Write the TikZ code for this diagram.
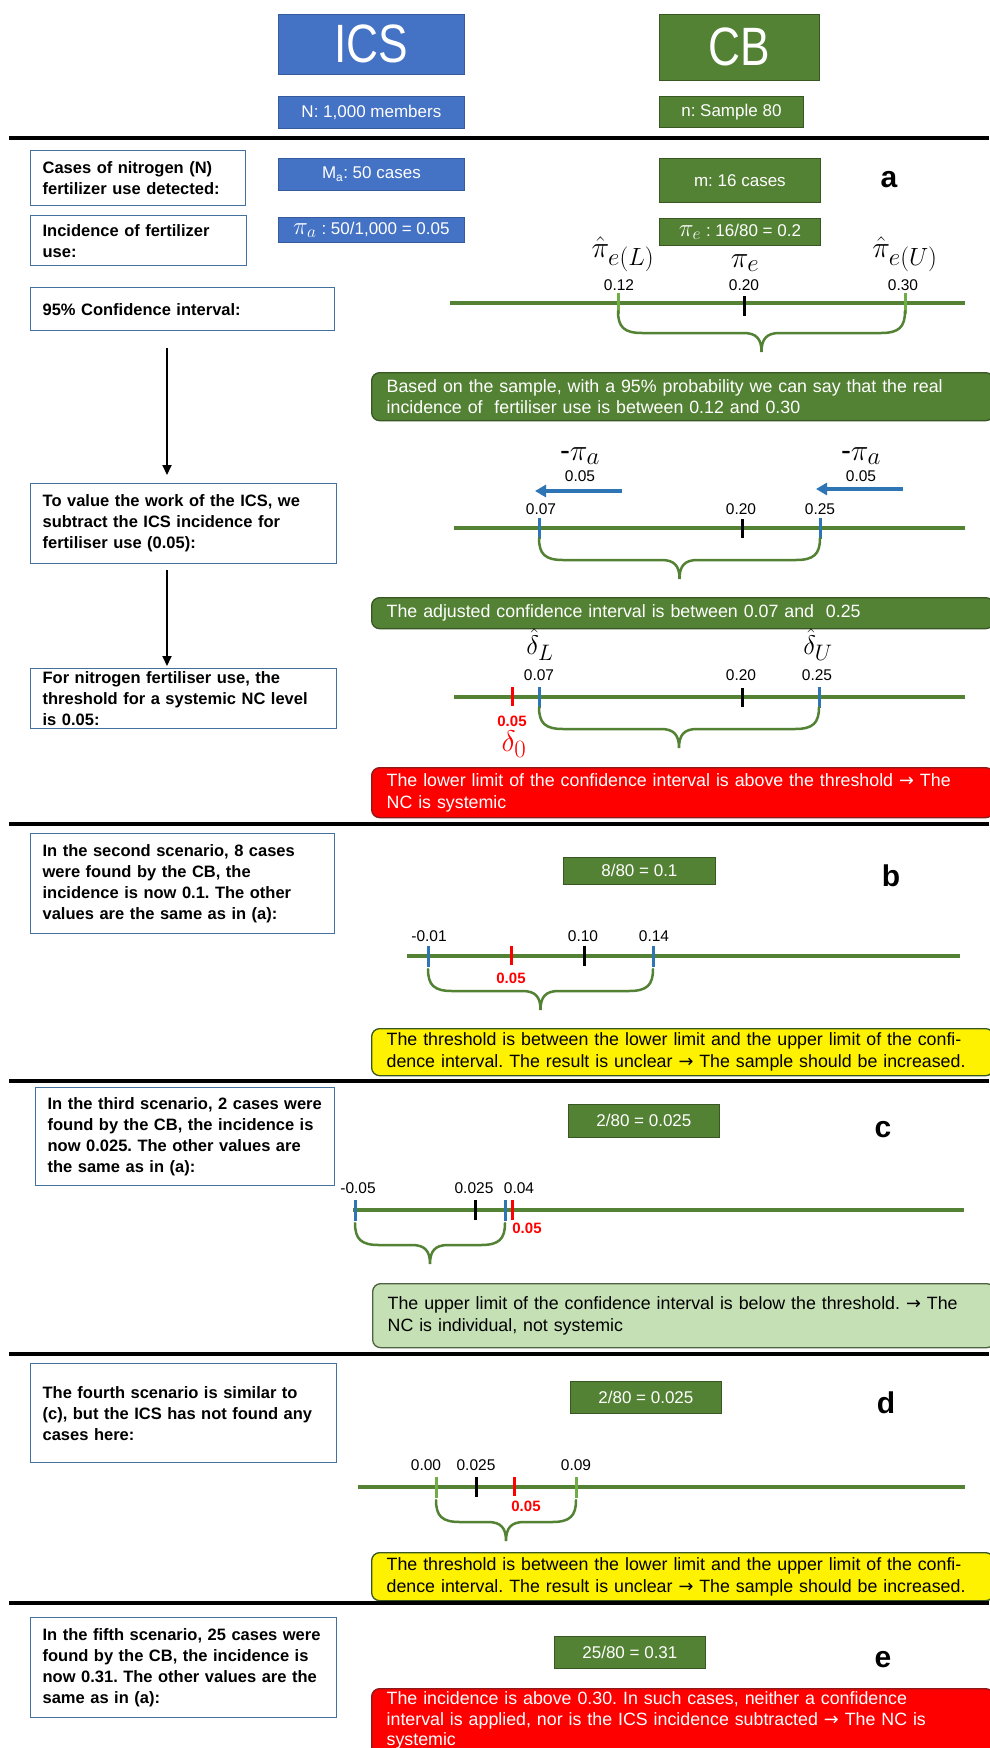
\documentclass[tikz,border=0pt]{standalone}
\usepackage{graphicx}
\usepackage{fontspec}
\setmainfont{Liberation Sans}
\newfontfamily\narrowfont[FakeStretch=0.82]{Liberation Sans}
\newfontfamily\djv{DejaVu Sans}
\usetikzlibrary{arrows.meta}
\definecolor{icsblue}{HTML}{4472C4}
\definecolor{cbgreen}{HTML}{548235}
\definecolor{darkgreen}{HTML}{385723}
\definecolor{lightgreen}{HTML}{C5E0B4}
\definecolor{boxborder}{HTML}{41719C}
\definecolor{tickblue}{HTML}{2E75B6}
\definecolor{tickgreen}{HTML}{70AD47}
\definecolor{redborder}{HTML}{8B1A1A}
\newcommand{\rarr}{{\djv\char"2192}}
\newcommand{\boxmath}[1]{\scalebox{1.45}{$#1$}}
\newcommand{\lblmath}[1]{\scalebox{1.2}{#1}}
% curly brace below a number line: x1, x2, y
\newcommand{\curlyb}[3]{%
  \draw[bracestyle] (#1,#3) .. controls (#1,#3+16) and ({#1+6},#3+22) .. ({#1+24},#3+22)
    -- ({(#1+#2)/2-18},#3+22) .. controls ({(#1+#2)/2-5},#3+22) and ({(#1+#2)/2},#3+28) .. ({(#1+#2)/2},#3+41)
    .. controls ({(#1+#2)/2},#3+28) and ({(#1+#2)/2+5},#3+22) .. ({(#1+#2)/2+18},#3+22)
    -- ({#2-24},#3+22) .. controls ({#2-6},#3+22) and (#2,#3+16) .. (#2,#3);}
\frenchspacing
\tikzset{
  leftbox/.style={draw=boxborder, line width=1.3pt, fill=white, anchor=north west, align=left,
    inner xsep=12pt, inner ysep=0pt, font=\bfseries\fontsize{16.5}{21}\selectfont},
  smallbox/.style={anchor=north west, text=white, inner sep=0pt, line width=0.8pt,
    font=\fontsize{17}{20}\selectfont},
  bigbox/.style={anchor=north west, text=white, inner sep=0pt, line width=0.8pt,
    font=\narrowfont\fontsize{54}{54}\selectfont},
  infobox/.style={anchor=north west, rounded corners=8pt, align=left, inner xsep=15pt,
    inner ysep=3pt, text width=592pt, line width=1.3pt, font=\fontsize{17.8}{21.7}\selectfont},
  letterlbl/.style={font=\bfseries\fontsize{30}{30}\selectfont, inner sep=0pt},
  numline/.style={draw=cbgreen, line width=4pt},
  tickmk/.style={line width=3pt},
  num/.style={font=\fontsize{15.5}{16}\selectfont, inner sep=0pt},
  mathlbl/.style={font=\fontsize{24.88}{27}\selectfont, inner sep=0pt},
  redlbl/.style={font=\bfseries\fontsize{15}{16}\selectfont, text=red, inner sep=0pt},
  bracestyle/.style={draw=cbgreen, line width=2.5pt, line cap=round},
  rulestyle/.style={line width=3.5pt, draw=black},
  downarrow/.style={line width=2pt, -{Triangle[length=10pt,width=9pt]}},
  bluearrow/.style={draw=tickblue, line width=3.5pt, -{Triangle[length=11pt,width=12pt]}},
}
\begin{document}
\begin{tikzpicture}[x=1pt,y=-1pt]
\useasboundingbox (0,0) rectangle (989,1748);
\fill[white] (0,0) rectangle (989,1748);

% ---------- header ----------
\node[bigbox, fill=icsblue, draw=icsblue!80!black, minimum width=186pt, minimum height=60pt] (ics) at (278,14) {ICS};
\node[bigbox, fill=cbgreen, draw=darkgreen, minimum width=160pt, minimum height=66pt] (cb) at (659,14) {CB};
\node[smallbox, fill=icsblue, draw=icsblue!80!black, minimum width=186pt, minimum height=32pt] (Nbox) at (278,96) {N: 1,000 members};
\node[smallbox, fill=cbgreen, draw=darkgreen, minimum width=144pt, minimum height=31pt] (nbox) at (659,96) {n: Sample 80};
\draw[rulestyle] (9,138) -- (989,138);

% ---------- section a ----------
\node[leftbox, text width=191pt, minimum height=55pt] (cases) at (30,150) {Cases of nitrogen (N)\\fertilizer use detected:};
\node[smallbox, fill=icsblue, draw=icsblue!80!black, minimum width=186pt, minimum height=32pt] (Ma) at (278,158) {M\textsubscript{a}: 50 cases};
\node[smallbox, fill=cbgreen, draw=darkgreen, minimum width=161pt, minimum height=44pt] (mbox) at (659,158) {m: 16 cases};
\node[letterlbl] (la) at (889,180) {a};
\node[leftbox, text width=192pt, minimum height=50pt] (inc) at (30,215) {Incidence of fertilizer\\use:};
\node[smallbox, fill=icsblue, draw=icsblue!80!black, minimum width=186pt, minimum height=25pt] (pia) at (278,217) {\boxmath{\pi_a} : 50/1,000 = 0.05};
\node[smallbox, fill=cbgreen, draw=darkgreen, minimum width=161pt, minimum height=27pt] (pie) at (659,218) {\boxmath{\pi_e} : 16/80 = 0.2};
\node[leftbox, text width=280pt, minimum height=43pt] (ci) at (30,287) {95\% Confidence interval:};

% number line a1
\draw[numline] (450,303) -- (965,303);
\draw[tickmk, tickgreen] (618,293) -- (618,314);
\draw[tickmk, black] (744,296) -- (744,316);
\draw[tickmk, tickgreen] (905,293) -- (905,314);
\node[mathlbl, anchor=south] (piL) at (623,272) {\lblmath{$\hat{\pi}_{e(L)}$}};
\node[mathlbl, anchor=south] (piM) at (745,272) {\lblmath{$\pi_e$}};
\node[mathlbl, anchor=south] (piU) at (905,272) {\lblmath{$\hat{\pi}_{e(U)}$}};
\node[num] (n012) at (619,285) {0.12};
\node[num] (n020a) at (744,285) {0.20};
\node[num] (n030) at (903,285) {0.30};
\curlyb{618}{905}{311}

\node[infobox, fill=cbgreen, draw=darkgreen, text=white, minimum height=48pt] (based) at (371,372)
  {Based on the sample, with a 95\% probability we can say that the real\\incidence of~ fertiliser use is between 0.12 and 0.30};

% left column arrows and boxes
\coordinate (ax) at (167,0);
\node[leftbox, text width=282pt, minimum height=80pt] (val) at (30,483) {To value the work of the ICS, we\\subtract the ICS incidence for\\fertiliser use (0.05):};
\draw[downarrow, shorten <=17pt, shorten >=8pt] (ci.south -| ax) -- (val.north -| ax);

% number line a2
\node[mathlbl, anchor=south] (mpa1) at (580,465) {\lblmath{-$\pi_a$}};
\node[num] (n005a) at (580,476) {0.05};
\node[mathlbl, anchor=south] (mpa2) at (861,465) {\lblmath{-$\pi_a$}};
\node[num] (n005b) at (861,476) {0.05};
\coordinate (ba1s) at (622,491);
\coordinate (ba1e) at (535,491);
\coordinate (ba2s) at (903,489);
\coordinate (ba2e) at (816,489);
\draw[bluearrow] (ba1s) -- (ba1e);
\draw[bluearrow] (ba2s) -- (ba2e);
\draw[numline] (454,528) -- (965,528);
\draw[tickmk, tickblue] (539,518) -- (539,539);
\draw[tickmk, black] (742,519) -- (742,538);
\draw[tickmk, tickblue] (820,518) -- (820,539);
\node[num] (n007a) at (541,509) {0.07};
\node[num] (n020b) at (741,509) {0.20};
\node[num] (n025a) at (820,509) {0.25};
\curlyb{539}{820}{538}

\node[infobox, fill=cbgreen, draw=darkgreen, text=white, minimum height=31pt] (adj) at (371,597)
  {The adjusted confidence interval is between 0.07 and \ 0.25};

% number line a3
\node[leftbox, text width=282pt, minimum height=60pt] (thr) at (30,668) {For nitrogen fertiliser use, the\\threshold for a systemic NC level\\is 0.05:};
\draw[downarrow, shorten <=6pt, shorten >=2pt] (val.south -| ax) -- (thr.north -| ax);
\node[mathlbl, anchor=south] (dL) at (540,661) {\scalebox{1.08}{$\hat{\delta}_L$}};
\node[mathlbl, anchor=south] (dU) at (818,661) {\scalebox{1.08}{$\hat{\delta}_U$}};
\node[num] (n007b) at (539,675) {0.07};
\node[num] (n020c) at (741,675) {0.20};
\node[num] (n025b) at (817,675) {0.25};
\draw[numline] (454,697) -- (965,697);
\draw[tickmk, red] (512,687) -- (512,706);
\draw[tickmk, tickblue] (539,687) -- (539,708);
\draw[tickmk, black] (742,688) -- (742,707);
\draw[tickmk, tickblue] (819,687) -- (819,708);
\node[redlbl] (r005a) at (512,721) {0.05};
\node[mathlbl, text=red, anchor=north] (d0) at (514,731) {\lblmath{$\delta_0$}};
\curlyb{539}{819}{707}

\node[infobox, fill=red, draw=redborder, text=white, minimum height=50pt] (reda) at (371,767)
  {The lower limit of the confidence interval is above the threshold \rarr{} The\\NC is systemic};
\draw[rulestyle] (9,824) -- (989,824);

% ---------- section b ----------
\node[leftbox, text width=280pt, minimum height=100pt] (secb) at (30,833) {In the second scenario, 8 cases\\were found by the CB, the\\incidence is now 0.1. The other\\values are the same as in (a):};
\node[smallbox, fill=cbgreen, draw=darkgreen, minimum width=152pt, minimum height=27pt] (b880) at (563,857) {8/80 = 0.1};
\node[letterlbl] (lb) at (891,876) {b};
\draw[numline] (407,956) -- (960,956);
\draw[tickmk, tickblue] (428,946) -- (428,967);
\draw[tickmk, red] (511,946) -- (511,965);
\draw[tickmk, black] (584,946) -- (584,966);
\draw[tickmk, tickblue] (653,946) -- (653,967);
\node[num] (nm001) at (429,936) {-0.01};
\node[num] (n010) at (583,936) {0.10};
\node[num] (n014) at (654,936) {0.14};
\node[redlbl] (r005b) at (511,978) {0.05};
\curlyb{428}{653}{969}
\node[infobox, fill=yellow, draw=darkgreen, text=black, minimum height=47pt] (yelb) at (371,1028)
  {The threshold is between the lower limit and the upper limit of the confi-\\dence interval. The result is unclear \rarr{} The sample should be increased.};
\draw[rulestyle] (9,1081) -- (989,1081);

% ---------- section c ----------
\node[leftbox, text width=275pt, minimum height=98pt] (secc) at (35,1087) {In the third scenario, 2 cases were\\found by the CB, the incidence is\\now 0.025. The other values are\\the same as in (a):};
\node[smallbox, fill=cbgreen, draw=darkgreen, minimum width=151pt, minimum height=33pt] (c280) at (568,1104) {2/80 = 0.025};
\node[letterlbl] (lc) at (883,1130) {c};
\draw[numline] (353,1210) -- (964,1210);
\draw[tickmk, tickblue] (355,1200) -- (355,1221);
\draw[tickmk, black] (475,1200) -- (475,1220);
\draw[tickmk, tickblue] (505,1200) -- (505,1221);
\draw[tickmk, red] (512,1200) -- (512,1220);
\node[num] (nm005) at (358,1188) {-0.05};
\node[num] (n0025c) at (474,1188) {0.025};
\node[num] (n004) at (519,1188) {0.04};
\node[redlbl] (r005c) at (527,1228) {0.05};
\curlyb{355}{505}{1223}
\node[infobox, fill=lightgreen, draw=darkgreen!70!gray, text=black, minimum height=64pt] (lgc) at (372,1283)
  {The upper limit of the confidence interval is below the threshold. \rarr{} The\\NC is individual, not systemic};
\draw[rulestyle] (9,1354) -- (989,1354);

% ---------- section d ----------
\node[leftbox, text width=282pt, minimum height=99pt] (secd) at (30,1363) {The fourth scenario is similar to\\(c), but the ICS has not found any\\cases here:};
\node[smallbox, fill=cbgreen, draw=darkgreen, minimum width=151pt, minimum height=32pt] (d280) at (570,1381) {2/80 = 0.025};
\node[letterlbl] (ld) at (886,1403) {d};
\draw[numline] (358,1487) -- (965,1487);
\draw[tickmk, tickgreen] (436,1477) -- (436,1498);
\draw[tickmk, black] (476,1477) -- (476,1497);
\draw[tickmk, red] (514,1477) -- (514,1496);
\draw[tickmk, tickgreen] (576,1477) -- (576,1498);
\node[num] (n000) at (426,1465) {0.00};
\node[num] (n0025d) at (476,1465) {0.025};
\node[num] (n009) at (576,1465) {0.09};
\node[redlbl] (r005d) at (526,1506) {0.05};
\curlyb{436}{576}{1500}
\node[infobox, fill=yellow, draw=darkgreen, text=black, minimum height=48pt] (yeld) at (371,1552)
  {The threshold is between the lower limit and the upper limit of the confi-\\dence interval. The result is unclear \rarr{} The sample should be increased.};
\draw[rulestyle] (9,1603) -- (989,1603);

% ---------- section e ----------
\node[leftbox, text width=282pt, minimum height=100pt] (sece) at (30,1617) {In the fifth scenario, 25 cases were\\found by the CB, the incidence is\\now 0.31. The other values are the\\same as in (a):};
\node[smallbox, fill=cbgreen, draw=darkgreen, minimum width=151pt, minimum height=32pt] (e2580) at (554,1636) {25/80 = 0.31};
\node[letterlbl] (le) at (883,1660) {e};
\node[infobox, fill=red, draw=redborder, text=white, inner ysep=3pt, anchor=north west, font=\fontsize{17.8}{20.5}\selectfont] (rede) at (371,1688)
  {The incidence is above 0.30. In such cases, neither a confidence\\interval is applied, nor is the ICS incidence subtracted \rarr{} The NC is\\systemic\strut};
\end{tikzpicture}
\end{document}
